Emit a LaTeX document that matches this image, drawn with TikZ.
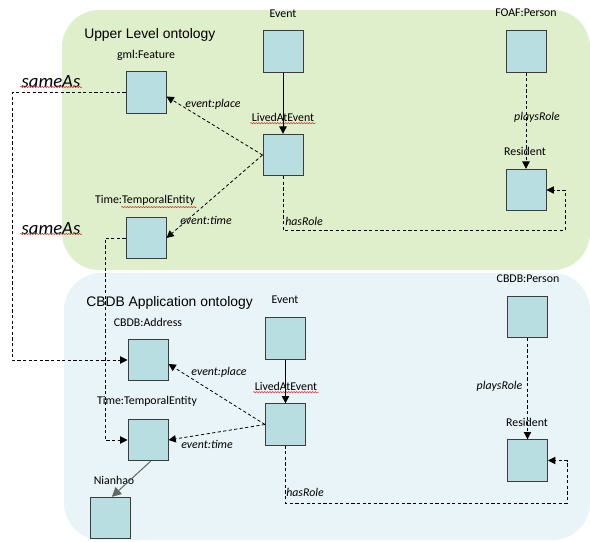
\documentclass[tikz,border=0pt]{standalone}
\usepackage{fontspec}
\setmainfont{Carlito}
\newfontfamily\titlefont{Liberation Sans}
\usetikzlibrary{arrows.meta,decorations.pathmorphing,calc}
\definecolor{upbg}{HTML}{DFEECB}
\definecolor{lowbg}{HTML}{E8F4F7}
\definecolor{boxfill}{HTML}{B8DEE2}
\definecolor{boxline}{HTML}{3C3C3C}
\definecolor{squigred}{HTML}{E03030}
\begin{document}
\begin{tikzpicture}[x=0.75pt,y=-0.75pt,
 box/.style={draw=boxline, fill=boxfill, line width=0.75pt, minimum width=30pt, minimum height=31pt, inner sep=0},
 lbl/.style={font=\fontsize{8.9}{10}\selectfont, inner sep=1pt},
 elbl/.style={font=\fontsize{8.9}{10}\selectfont\itshape, inner sep=1pt},
 ttl/.style={font=\titlefont\fontsize{10.4}{12}\selectfont, anchor=west, inner sep=0},
 same/.style={font=\fontsize{14}{16}\selectfont\itshape, inner sep=1pt},
 dsh/.style={draw=black, dash pattern=on 2.4pt off 1.8pt, line width=0.6pt},
 sld/.style={draw=black, line width=0.75pt},
 tip/.style={-{Triangle[length=5.5pt,width=5.5pt]}},
 squig/.style={draw=squigred, decorate, decoration={snake, amplitude=0.45pt, segment length=2pt}, line width=0.4pt}
]
\useasboundingbox (0,0) rectangle (590,542);
\fill[white] (0,0) rectangle (590,542);
% regions
\fill[upbg, rounded corners=28pt] (62,10) rectangle (590,270);
\fill[lowbg, rounded corners=28pt] (64,273) rectangle (590,540);
\node[ttl] (t1) at (84,35) {Upper Level ontology};
\node[ttl] (t2) at (86,303) {CBDB Application ontology};

% upper boxes
\node[box] (feat) at (146,92.5) {};
\node[box] (ev1) at (283,51.5) {};
\node[box] (lae1) at (283,155) {};
\node[box] (time1) at (146,238) {};
\node[box] (foaf) at (526,51.5) {};
\node[box] (res1) at (526,190) {};
% upper labels
\node[lbl] (featl) at (146,55) {gml:Feature};
\node[lbl] (ev1l) at (283,14) {Event};
\node[lbl] (lae1l) at (283,117) {LivedAtEvent};
\node[lbl] (time1l) at (145,200) {Time:TemporalEntity};
\node[lbl] (foafl) at (526,13) {FOAF:Person};
\node[lbl] (res1l) at (525,151) {Resident};

% lower boxes
\node[box] (addr) at (148,360) {};
\node[box] (ev2) at (285.5,338.5) {};
\node[box] (lae2) at (285.5,424.5) {};
\node[box] (time2) at (148,440) {};
\node[box] (nian) at (110.5,518) {};
\node[box] (cbp) at (527.5,317) {};
\node[box] (res2) at (527.5,460.5) {};
% lower labels
\node[lbl] (addrl) at (148,322) {CBDB:Address};
\node[lbl] (ev2l) at (285,300) {Event};
\node[lbl] (lae2l) at (286,386) {LivedAtEvent};
\node[lbl] (time2l) at (147,401) {Time:TemporalEntity};
\node[lbl] (nianl) at (114,480) {Nianhao};
\node[lbl] (cbpl) at (528,279) {CBDB:Person};
\node[lbl] (res2l) at (527,422) {Resident};

% spell-check squiggles
\draw[squig] ([yshift=-0.3pt]lae1l.south west) -- ([yshift=-0.3pt]lae1l.south east);
\draw[squig] ([yshift=-0.3pt]lae2l.south west) -- ([yshift=-0.3pt]lae2l.south east);
\draw[squig] ([yshift=-0.3pt]$(time1l.south west)!0.27!(time1l.south east)$) -- ([yshift=-0.3pt]time1l.south east);

% upper connectors
\draw[sld,tip] (ev1.south) -- (lae1.north);
\draw[dsh,tip] (lae1.west) -- ([yshift=-3pt]feat.east);
\draw[dsh,tip] (lae1.west) -- (time1.east);
\draw[dsh,tip] (foaf.south) -- (res1.north);
\coordinate (h1) at (565,230);
\draw[dsh,tip] (lae1.south) |- (h1) |- (res1.east);

% lower connectors
\draw[sld,tip] (ev2.south) -- (lae2.north);
\draw[dsh,tip] (lae2.west) -- ([yshift=-3pt]addr.east);
\draw[dsh,tip] (lae2.west) -- (time2.east);
\draw[dsh,tip] (cbp.south) -- (res2.north);
\coordinate (h2) at (567,503);
\draw[dsh,tip] (lae2.south) |- (h2) |- (res2.east);
\draw[draw=black!60, line width=0.75pt, -{Triangle[length=7pt,width=7pt]}] ([xshift=2pt]time2.south) -- ([xshift=1pt]nian.north);

% sameAs links
\coordinate (s1) at (12,200);
\draw[dsh,tip] (feat.west) -| (s1) |- (addr.west);
\coordinate (s2) at (105,300);
\draw[dsh,tip] (time1.west) -| (s2) |- (time2.west);

% edge labels
\node[elbl] (ep1) at (213,104) {event:place};
\node[elbl] (et1) at (206,220) {event:time};
\node[elbl] (pr1) at (537,117) {playsRole};
\node[elbl] (hr1) at (304,221) {hasRole};
\node[elbl] (ep2) at (219,372) {event:place};
\node[elbl] (et2) at (207,444) {event:time};
\node[elbl] (pr2) at (499.5,386) {playsRole};
\node[elbl] (hr2) at (305,492) {hasRole};
\node[same] (sa1) at (51,82) {sameAs};
\node[same] (sa2) at (51,229) {sameAs};
\draw[squig] ([yshift=2pt]sa1.south west) -- ([yshift=2pt]sa1.south east);
\draw[squig] ([yshift=2pt]sa2.south west) -- ([yshift=2pt]sa2.south east);
\end{tikzpicture}
\end{document}
